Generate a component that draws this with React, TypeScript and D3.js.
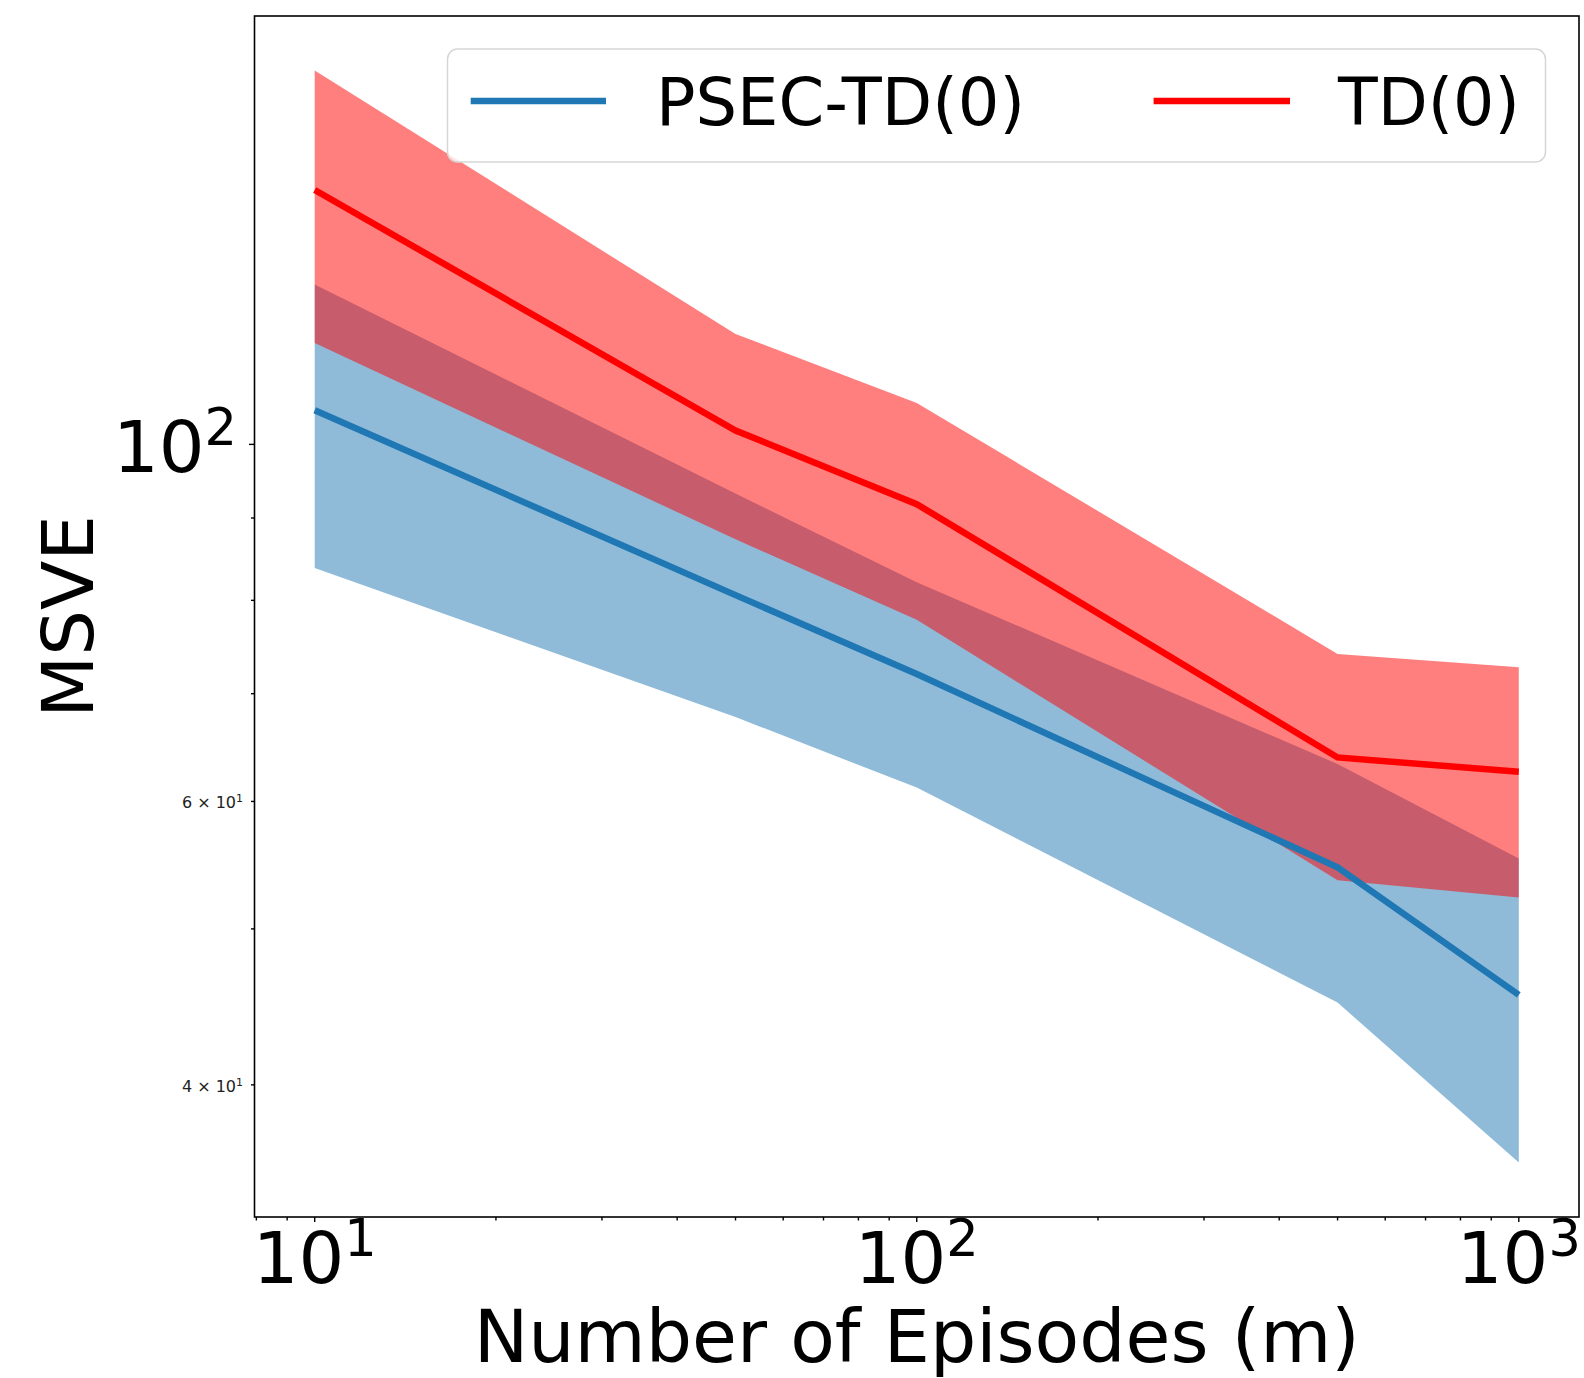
import React, { useEffect } from 'react';
import * as d3 from 'd3';

// episodes on x, MSVE on y (both log)
const episodes = [10, 50, 100, 500, 1000];
const psecMean = [105.0, 80.6, 72.0, 54.6, 45.5];
const psecLow = [83.8, 67.7, 61.2, 45.0, 35.8];
const psecHigh = [125.7, 93.2, 82.1, 63.3, 55.3];
const tdMean = [143.9, 102.0, 91.8, 63.9, 62.6];
const tdLow = [115.6, 87.3, 77.8, 53.6, 52.3];
const tdHigh = [170.7, 117.1, 106.1, 74.1, 72.7];

const seriesNames = ['PSEC-TD(0)', 'TD(0)'];
const xMajor = [10, 100, 1000];
const yMajor = [100];
const yMinorLabeled = [40, 60];

const W = 1584;
const H = 1378;
const left = 254.5;
const right = 1579;
const top = 16;
const bottom = 1217;
const font = 'DejaVu Sans';

const logPad = (lo: number, hi: number) => {
  const a = Math.log10(lo), b = Math.log10(hi);
  const m = (b - a) * 0.05;
  return [Math.pow(10, a - m), Math.pow(10, b + m)];
};

const App = () => {
  useEffect(() => {
    document.body.style.margin = '0';
  }, []);

  const x = d3.scaleLog().domain(logPad(d3.min(episodes)!, d3.max(episodes)!)).range([left, right]);
  const allY = [...psecLow, ...psecHigh, ...tdLow, ...tdHigh, ...psecMean, ...tdMean];
  const y = d3.scaleLog().domain(logPad(d3.min(allY)!, d3.max(allY)!)).range([bottom, top]);

  const area = (lo: number[], hi: number[]) =>
    d3.area<number>()
      .x((d) => x(d))
      .y0((_, i) => y(lo[i]))
      .y1((_, i) => y(hi[i]))(episodes) || '';
  const line = (vals: number[]) =>
    d3.line<number>().x((d) => x(d)).y((_, i) => y(vals[i]))(episodes) || '';

  const xTicks = x.ticks().filter((t) => t >= x.domain()[0] && t <= x.domain()[1]);
  const yTicks = y.ticks().filter((t) => t >= y.domain()[0] && t <= y.domain()[1]);
  const isMajor = (t: number) => Math.abs(Math.log10(t) - Math.round(Math.log10(t))) < 1e-9;

  const blue = '#1f77b4';
  const red = '#ff0000';

  return (
    <svg width={W} height={H} style={{ display: 'block', background: '#fff' }} fontFamily={font}>
      {/* bands */}
      <path d={area(psecLow, psecHigh)} fill={blue} fillOpacity={0.5} />
      <path d={area(tdLow, tdHigh)} fill={red} fillOpacity={0.5} />
      {/* lines */}
      <path d={line(psecMean)} fill="none" stroke={blue} strokeWidth={6.5} />
      <path d={line(tdMean)} fill="none" stroke={red} strokeWidth={6.5} />

      {/* spines */}
      <rect x={left} y={top} width={right - left} height={bottom - top} fill="none" stroke="#000" strokeWidth={1.6} />

      {/* x ticks */}
      {xTicks.map((t) => (
        <line key={'xt' + t} x1={x(t)} x2={x(t)} y1={bottom} y2={bottom + (isMajor(t) ? 5 : 3.5)} stroke="#000" strokeWidth={1.4} />
      ))}
      {xMajor.map((t) => (
        <text key={'xl' + t} x={x(t)} y={1283} textAnchor="middle" fontSize={72}>
          10<tspan fontSize={51} dy={-27}>{Math.round(Math.log10(t))}</tspan>
        </text>
      ))}

      {/* y ticks */}
      {yTicks.map((t) => (
        <line key={'yt' + t} x1={left} x2={left - (isMajor(t) ? 5.5 : 3.5)} y1={y(t)} y2={y(t)} stroke="#000" strokeWidth={1.4} />
      ))}
      {yMajor.map((t) => (
        <text key={'yl' + t} x={237} y={y(t) + 27.5} textAnchor="end" fontSize={72}>
          10<tspan fontSize={51} dy={-27}>{Math.round(Math.log10(t))}</tspan>
        </text>
      ))}
      {yMinorLabeled.map((t) => (
        <text key={'ym' + t} x={243} y={y(t) + 7} textAnchor="end" fontSize={16} fill="#222">
          {`${t / 10} × 10`}<tspan fontSize={11} dy={-6}>1</tspan>
        </text>
      ))}

      {/* axis labels */}
      <text x={(left + right) / 2} y={1362} textAnchor="middle" fontSize={73}>Number of Episodes (m)</text>
      <text transform={`translate(93,${(top + bottom) / 2}) rotate(-90)`} textAnchor="middle" fontSize={72}>MSVE</text>

      {/* legend */}
      <rect x={447.5} y={49} width={1098} height={113} rx={10} fill="#fff" fillOpacity={0.8} stroke="#d6d6d6" strokeWidth={1.5} />
      <line x1={470.7} x2={606} y1={101} y2={101} stroke={blue} strokeWidth={6.5} />
      <text x={656} y={124.5} fontSize={65.5}>{seriesNames[0]}</text>
      <line x1={1153.6} x2={1290} y1={101} y2={101} stroke={red} strokeWidth={6.5} />
      <text x={1338} y={124.5} fontSize={65}>{seriesNames[1]}</text>
    </svg>
  );
};

export default App;
